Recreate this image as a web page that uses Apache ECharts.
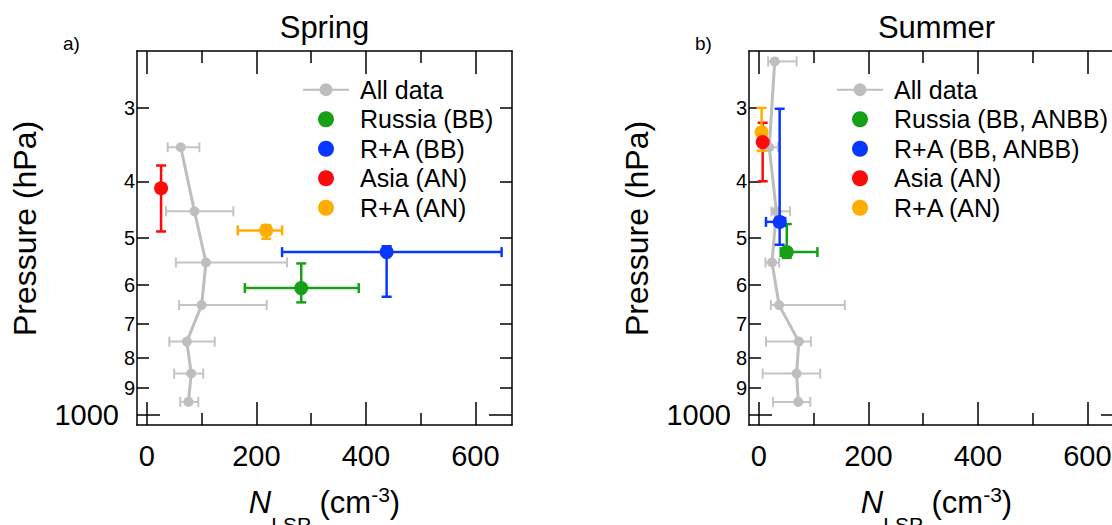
<!DOCTYPE html>
<html><head><meta charset="utf-8">
<script src="https://cdn.jsdelivr.net/npm/echarts@6/dist/echarts.min.js"></script>
<style>html,body{margin:0;padding:0;background:#fff}#c{width:1112px;height:525px}</style>
</head><body><div id="c"></div>
<script>
// ---------- data ----------
const xTickValues = [0, 200, 400, 600];
const xMinorTickValues = [100, 300, 500];
const pTickValues = [300, 400, 500, 600, 700, 800, 900];
const pMajorTickValues = [1000];
const panelTitles = ['Spring', 'Summer'];
const panelLetters = ['a)', 'b)'];

// Spring: all data (pressure, N, error low/high)
const springAllP = [350, 450, 550, 650, 750, 850, 950];
const springAllN = [62, 87, 108, 100, 73, 81, 76];
const springAllLo = [38, 35, 53, 59, 41, 50, 61];
const springAllHi = [96, 158, 256, 219, 124, 103, 94];
// Spring: source groups
const springNames = ['Russia (BB)', 'R+A (BB)', 'Asia (AN)', 'R+A (AN)'];
const springN = [282, 438, 26, 218];
const springP = [608, 528, 411, 485];
const springNLo = [179, 247, 26, 166];
const springNHi = [387, 648, 26, 247];
const springPLo = [552, 516, 376, 475];
const springPHi = [643, 629, 487, 501];

// Summer: all data
const summerAllP = [250, 350, 450, 550, 650, 750, 850, 950];
const summerAllN = [29, 19, 32, 24, 37, 73, 69, 72];
const summerAllLo = [17, 5, 23, 12, 22, 13, 7, 26];
const summerAllHi = [69, 35, 57, 37, 157, 95, 112, 94];
// Summer: source groups
const summerNames = ['Russia (BB, ANBB)', 'R+A (BB, ANBB)', 'Asia (AN)', 'R+A (AN)'];
const summerN = [51, 38, 7, 5];
const summerP = [528, 469, 343, 330];
const summerNLo = [40, 13, 7, 5];
const summerNHi = [107, 48, 7, 5];
const summerPLo = [473, 301, 318, 300];
const summerPHi = [540, 513, 400, 355];

// ---------- style ----------
const FONT = '"Liberation Sans", Arial, Helvetica, sans-serif';
const groupColors = ['#16a016', '#0838ff', '#ff0a0a', '#ffad00'];
const groupZ = [6, 7, 6.5, 6.2];
const grayLine = '#bebebe';
const grayErr = '#c4c4c4';
const X_MIN = -18, X_MAX = 667;
const P_MIN = 240, P_MAX = 1040;
const gridLefts = [137, 749];
const GRID_TOP = 51, GRID_W = 375, GRID_H = 374;
const L = Math.log10;

const panels = [
  {allP: springAllP, allN: springAllN, allLo: springAllLo, allHi: springAllHi,
   names: springNames, N: springN, P: springP, NLo: springNLo, NHi: springNHi, PLo: springPLo, PHi: springPHi},
  {allP: summerAllP, allN: summerAllN, allLo: summerAllLo, allHi: summerAllHi,
   names: summerNames, N: summerN, P: summerP, NLo: summerNLo, NHi: summerNHi, PLo: summerPLo, PHi: summerPHi}
];

function seg(x1, y1, x2, y2, color, lw) {
  return {type: 'line', shape: {x1, y1, x2, y2}, style: {stroke: color, lineWidth: lw}};
}
function errRender(params, api) {
  const x = api.value(0), p = api.value(1), xlo = api.value(2), xhi = api.value(3),
        plo = api.value(4), phi = api.value(5), ci = api.value(6);
  const color = ci < 0 ? grayErr : groupColors[ci];
  const lw = ci < 0 ? 2 : 2.5;
  const cap = 5;
  const children = [];
  if (xhi !== xlo) {
    const a = api.coord([xlo, p]), b = api.coord([xhi, p]);
    children.push(seg(a[0], a[1], b[0], b[1], color, lw));
    children.push(seg(a[0], a[1] - cap, a[0], a[1] + cap, color, lw));
    children.push(seg(b[0], b[1] - cap, b[0], b[1] + cap, color, lw));
  }
  if (phi !== plo) {
    const a = api.coord([x, plo]), b = api.coord([x, phi]);
    children.push(seg(a[0], a[1], b[0], b[1], color, lw));
    children.push(seg(a[0] - cap, a[1], a[0] + cap, a[1], color, lw));
    children.push(seg(b[0] - cap, b[1], b[0] + cap, b[1], color, lw));
  }
  return {type: 'group', children};
}

const grid = [], xAxis = [], yAxis = [], series = [], legend = [], graphic = [];
const axisLineStyle = {color: '#000', width: 1.5};
const xName = '{i|N}{sub|LSP}{m| (cm}{sup|-3}{m|)}';
const xNameStyle = {
  rich: {
    i: {fontSize: 31, fontStyle: 'italic', fontFamily: FONT, color: '#000', lineHeight: 66},
    m: {fontSize: 31, fontFamily: FONT, color: '#000', lineHeight: 66},
    sub: {fontSize: 21, fontFamily: FONT, color: '#000', verticalAlign: 'bottom'},
    sup: {fontSize: 21, fontFamily: FONT, color: '#000', verticalAlign: 'top', padding: [15, 0, 0, 0]}
  }
};
const pFmt = v => { const p = Math.round(Math.pow(10, v)); return p === 1000 ? '1000' : String(p / 100); };

panels.forEach((pn, g) => {
  grid.push({left: gridLefts[g], top: GRID_TOP, width: GRID_W, height: GRID_H,
             containLabel: false, outerBoundsMode: 'none', show: false});
  const xb = {gridIndex: g, type: 'value', min: X_MIN, max: X_MAX, splitLine: {show: false}};
  const x0 = xAxis.length;
  xAxis.push(Object.assign({}, xb, {
    position: 'bottom',
    axisLine: {show: true, onZero: false, lineStyle: axisLineStyle},
    axisTick: {show: true, inside: true, length: 23, customValues: xTickValues, lineStyle: axisLineStyle},
    axisLabel: {show: true, customValues: xTickValues, fontSize: 29, fontFamily: FONT, color: '#000', margin: 16},
    name: xName, nameLocation: 'middle', nameGap: 44, nameTextStyle: xNameStyle, nameMoveOverlap: false
  }));
  xAxis.push(Object.assign({}, xb, {
    position: 'bottom', axisLine: {show: false, onZero: false},
    axisTick: {show: true, inside: true, length: 12, customValues: xMinorTickValues, lineStyle: axisLineStyle},
    axisLabel: {show: false}
  }));
  xAxis.push(Object.assign({}, xb, {
    position: 'top', axisLine: {show: true, onZero: false, lineStyle: axisLineStyle},
    axisTick: {show: true, inside: true, length: 23, customValues: xTickValues, lineStyle: axisLineStyle},
    axisLabel: {show: false}
  }));
  xAxis.push(Object.assign({}, xb, {
    position: 'top', axisLine: {show: false, onZero: false},
    axisTick: {show: true, inside: true, length: 12, customValues: xMinorTickValues, lineStyle: axisLineStyle},
    axisLabel: {show: false}
  }));

  const yb = {gridIndex: g, type: 'value', inverse: true, min: L(P_MIN), max: L(P_MAX), splitLine: {show: false}};
  const y0 = yAxis.length;
  yAxis.push(Object.assign({}, yb, {
    position: 'left', offset: 0, axisLine: {show: true, onZero: false, lineStyle: axisLineStyle},
    axisTick: {show: true, inside: true, length: 12, customValues: pTickValues.map(L), lineStyle: axisLineStyle},
    axisLabel: {show: true, inside: false, customValues: pTickValues.map(L), formatter: pFmt, fontSize: 20,
                fontFamily: FONT, color: '#000', margin: 2, align: 'right', verticalAlign: 'middle'},
    name: 'Pressure (hPa)', nameLocation: 'middle', nameRotate: 90, nameGap: 96, nameMoveOverlap: false,
    nameTextStyle: {fontSize: 32, fontFamily: FONT, color: '#000', padding: [0, 0, 0, 19]}
  }));
  yAxis.push(Object.assign({}, yb, {
    position: 'left', offset: 0, axisLine: {show: false, onZero: false},
    axisTick: {show: true, inside: true, length: 23, customValues: pMajorTickValues.map(L), lineStyle: axisLineStyle},
    axisLabel: {show: true, inside: false, customValues: pMajorTickValues.map(L), formatter: pFmt, fontSize: 29,
                fontFamily: FONT, color: '#000', margin: 18, align: 'right', verticalAlign: 'middle'}
  }));
  yAxis.push(Object.assign({}, yb, {
    position: 'right', offset: 0, axisLine: {show: true, onZero: false, lineStyle: axisLineStyle},
    axisTick: {show: true, inside: true, length: 12, customValues: pTickValues.map(L), lineStyle: axisLineStyle},
    axisLabel: {show: false}
  }));
  yAxis.push(Object.assign({}, yb, {
    position: 'right', offset: 0, axisLine: {show: false, onZero: false},
    axisTick: {show: true, inside: true, length: 23, customValues: pMajorTickValues.map(L), lineStyle: axisLineStyle},
    axisLabel: {show: false}
  }));

  // error bars for all data (gray)
  series.push({
    type: 'custom', name: 'err-all-' + g, xAxisIndex: x0, yAxisIndex: y0, z: 1, silent: true,
    encode: {x: 0, y: 1}, renderItem: errRender,
    data: pn.allP.map((p, i) => [pn.allN[i], L(p), pn.allLo[i], pn.allHi[i], L(p), L(p), -1])
  });
  series.push({
    type: 'line', name: 'All data', xAxisIndex: x0, yAxisIndex: y0, z: 2,
    symbol: 'circle', symbolSize: 10, showSymbol: true,
    itemStyle: {color: grayLine}, lineStyle: {color: grayLine, width: 3},
    data: pn.allP.map((p, i) => [pn.allN[i], L(p)])
  });
  // error bars for source groups
  series.push({
    type: 'custom', name: 'err-groups-' + g, xAxisIndex: x0, yAxisIndex: y0, z: 4, silent: true,
    encode: {x: 0, y: 1}, renderItem: errRender,
    data: pn.P.map((p, i) => [pn.N[i], L(p), pn.NLo[i], pn.NHi[i], L(pn.PLo[i]), L(pn.PHi[i]), i])
  });
  pn.names.forEach((nm, i) => {
    series.push({
      type: 'scatter', name: nm, xAxisIndex: x0, yAxisIndex: y0, z: groupZ[i],
      symbol: 'circle', symbolSize: 14, itemStyle: {color: groupColors[i], opacity: 1},
      data: [[pn.N[i], L(pn.P[i])]]
    });
  });

  legend.push({
    orient: 'vertical', left: [302, 836][g], top: 75, padding: 0,
    itemWidth: 46, itemHeight: 16, itemGap: 0, selectedMode: false,
    textStyle: {fontSize: 25, fontFamily: FONT, color: '#000', lineHeight: 29.5, padding: [0, 0, 0, 6]},
    data: ['All data'].concat(pn.names)
  });

  const cx = gridLefts[g] + GRID_W / 2;
  graphic.push({type: 'text', x: cx, y: 27, silent: true,
    style: {text: panelTitles[g], fontSize: 31, fontFamily: FONT, fill: '#000', align: 'center', verticalAlign: 'middle'}});
  graphic.push({type: 'text', x: [63, 695][g], y: 43, silent: true,
    style: {text: panelLetters[g], fontSize: 19, fontFamily: FONT, fill: '#000', align: 'left', verticalAlign: 'middle'}});
});

const chart = echarts.init(document.getElementById('c'), null, {renderer: 'svg'});
chart.setOption({
  animation: false,
  backgroundColor: '#fff',
  textStyle: {fontFamily: FONT},
  grid, xAxis, yAxis, series, legend, graphic
});
</script>
</body></html>
